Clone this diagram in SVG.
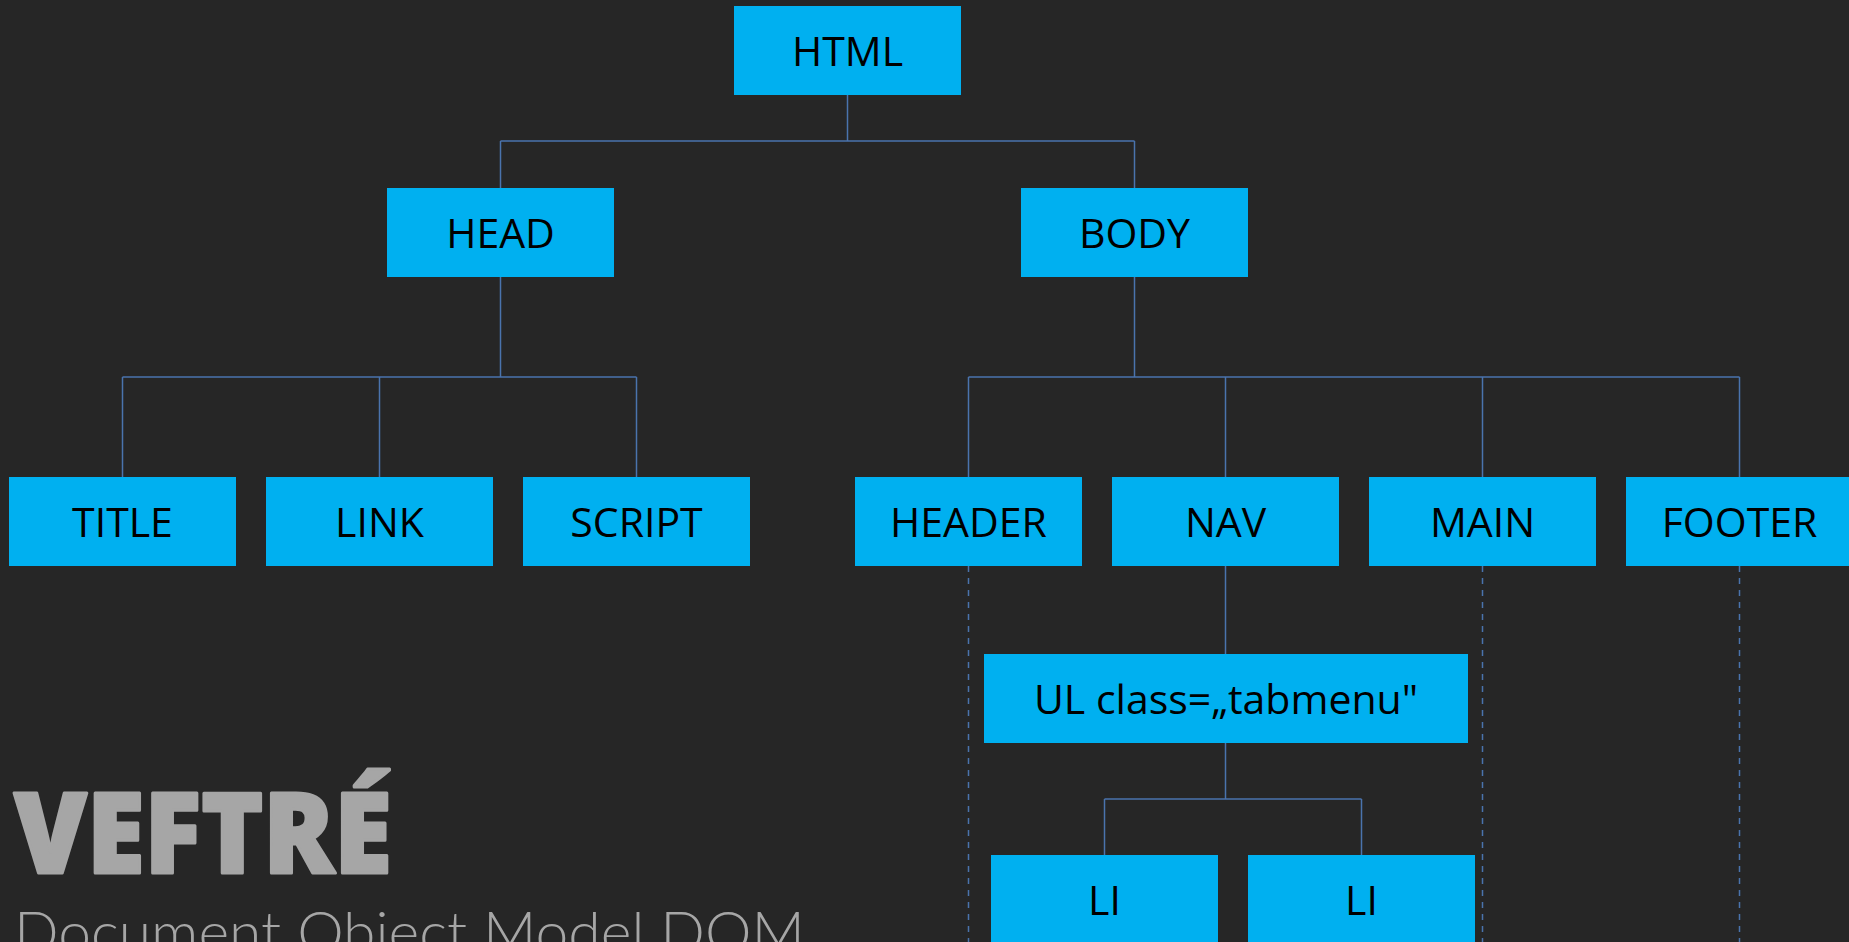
<svg xmlns="http://www.w3.org/2000/svg" width="1849" height="942" viewBox="0 0 1849 942">
<style>
.box{fill:#00b0f0}
.lbl{font-family:"Open Sans","Liberation Sans",sans-serif;font-size:41px;fill:#000;text-anchor:middle}
.ln{stroke:#4a73ad;stroke-width:1.5;fill:none}
.dash{stroke:#4a73ad;stroke-width:1.5;fill:none;stroke-dasharray:6 6}
</style>
<rect width="1849" height="942" fill="#262626"/>
<g id="connectors">
<path class="ln" d="M847.5 95V141M500.5 141H1134.5M500.5 141V188M1134.5 141V188"/>
<path class="ln" d="M500.5 277V377M122.5 377H636.5M122.5 377V477M379.5 377V477M636.5 377V477"/>
<path class="ln" d="M1134.5 277V377M968.5 377H1739.5M968.5 377V477M1225.5 377V477M1482.5 377V477M1739.5 377V477"/>
<path class="ln" d="M1225.5 566V654M1225.5 743V799M1104.5 799H1361.5M1104.5 799V855M1361.5 799V855"/>
<path class="dash" d="M968.5 566V942M1482.5 566V942M1739.5 566V942"/>
</g>
<g id="html"><rect class="box" x="734" y="6" width="227" height="89"/><text class="lbl" x="847.5" y="66">HTML</text></g>
<g id="head"><rect class="box" x="387" y="188" width="227" height="89"/><text class="lbl" x="500.5" y="248">HEAD</text></g>
<g id="body"><rect class="box" x="1021" y="188" width="227" height="89"/><text class="lbl" x="1134.5" y="248">BODY</text></g>
<g id="title"><rect class="box" x="9" y="477" width="227" height="89"/><text class="lbl" x="122.5" y="537">TITLE</text></g>
<g id="link"><rect class="box" x="266" y="477" width="227" height="89"/><text class="lbl" x="379.5" y="537">LINK</text></g>
<g id="script"><rect class="box" x="523" y="477" width="227" height="89"/><text class="lbl" x="636.5" y="537">SCRIPT</text></g>
<g id="header"><rect class="box" x="855" y="477" width="227" height="89"/><text class="lbl" x="968.5" y="537">HEADER</text></g>
<g id="nav"><rect class="box" x="1112" y="477" width="227" height="89"/><text class="lbl" x="1225.5" y="537">NAV</text></g>
<g id="main"><rect class="box" x="1369" y="477" width="227" height="89"/><text class="lbl" x="1482.5" y="537">MAIN</text></g>
<g id="footer"><rect class="box" x="1626" y="477" width="227" height="89"/><text class="lbl" x="1739.5" y="537">FOOTER</text></g>
<g id="ul"><rect class="box" x="984" y="654" width="484" height="89"/><text class="lbl" x="1226" y="714">UL class=„tabmenu"</text></g>
<g id="li1"><rect class="box" x="991" y="855" width="227" height="89"/><text class="lbl" x="1104.5" y="915">LI</text></g>
<g id="li2"><rect class="box" x="1248" y="855" width="227" height="89"/><text class="lbl" x="1361.5" y="915">LI</text></g>
<g id="brand">
<text x="14" y="873" font-family="'Open Sans','Liberation Sans',sans-serif" font-weight="800" font-size="111" fill="#a6a6a6" stroke="#a6a6a6" stroke-width="3" stroke-linejoin="round" textLength="378" lengthAdjust="spacingAndGlyphs">VEFTRÉ</text>
<text x="14" y="953" font-family="Lato,'Open Sans',sans-serif" font-weight="300" font-size="58" fill="#a6a6a6" textLength="791" lengthAdjust="spacingAndGlyphs">Document Object Model DOM</text>
</g>
</svg>
